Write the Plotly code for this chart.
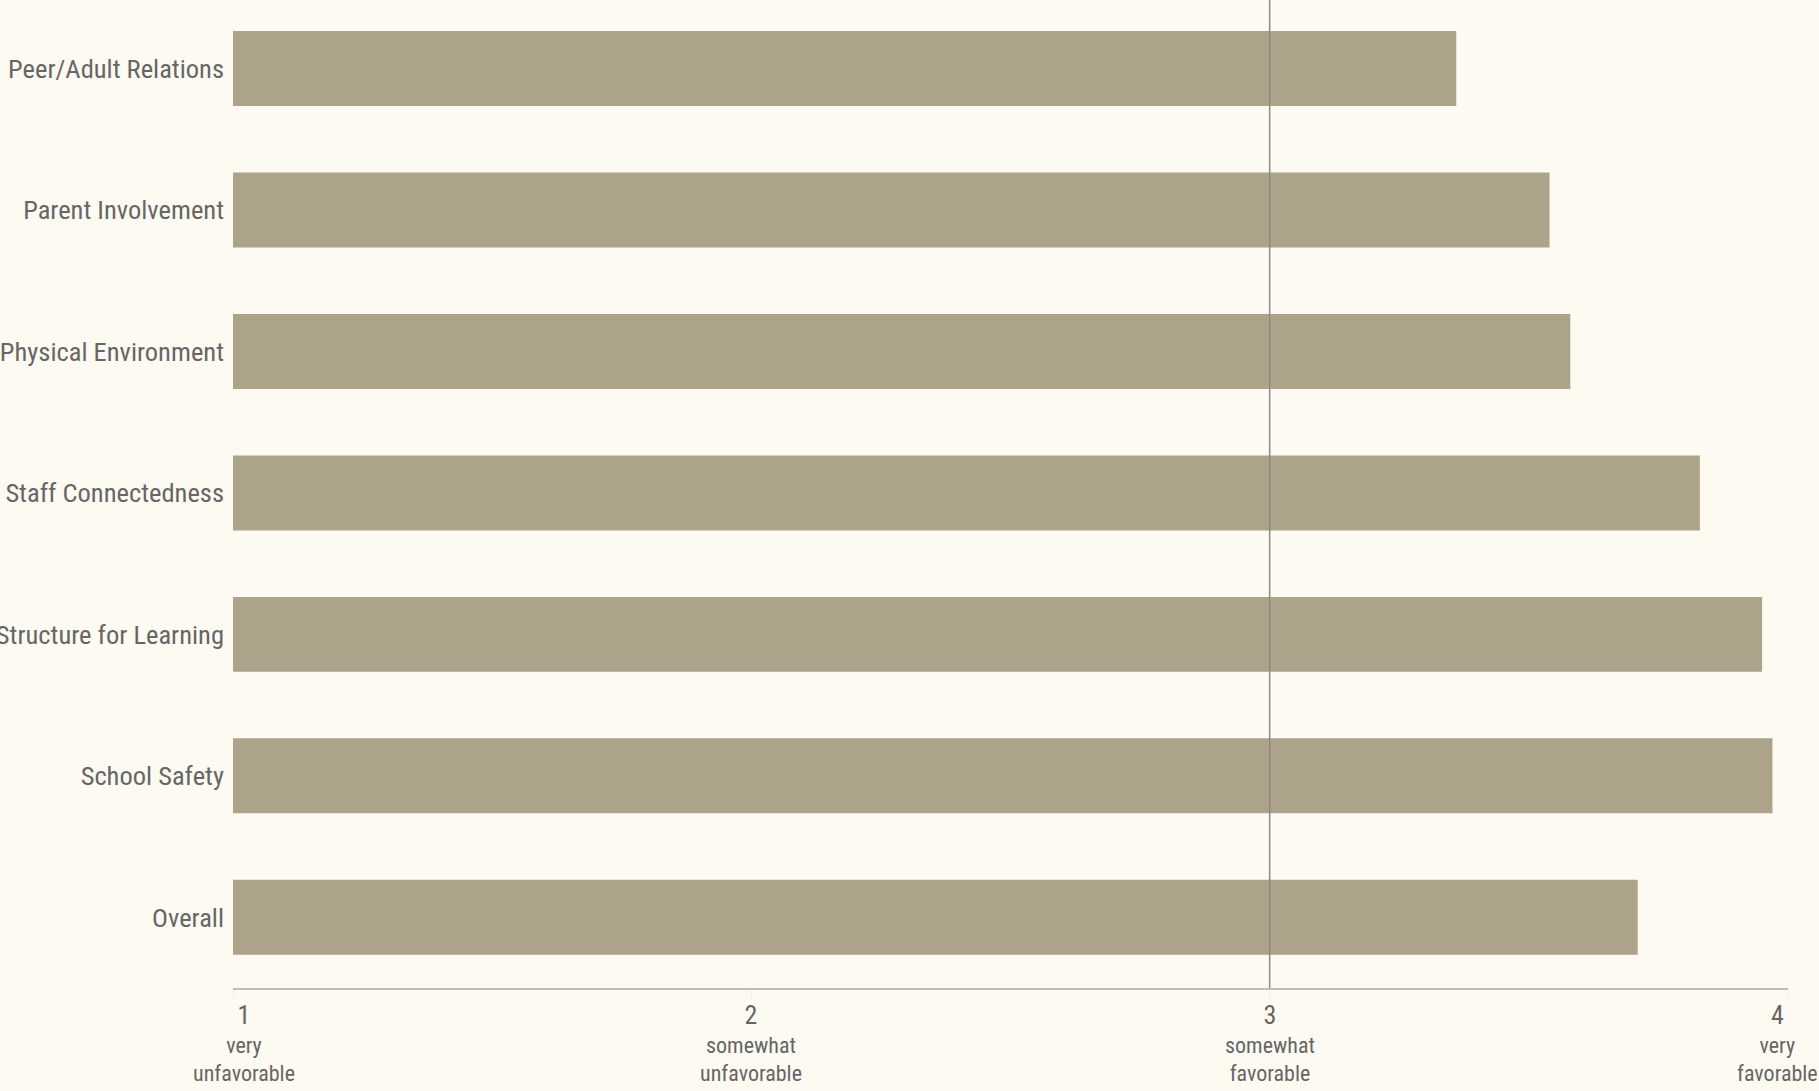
import plotly.graph_objects as go

categories = ["Peer/Adult Relations", "Parent Involvement", "Physical Environment",
              "Staff Connectedness", "Structure for Learning", "School Safety", "Overall"]
scores = [3.36, 3.54, 3.58, 3.83, 3.95, 3.97, 3.71]

tick_values = [1, 2, 3, 4]
tick_numbers = ["1", "2", "3", "4"]
tick_words = ["very<br>unfavorable", "somewhat<br>unfavorable", "somewhat<br>favorable", "very<br>favorable"]
tick_nudge = [11, 0, 0, -11]   # edge labels pulled inward so they stay inside the page

FONT = "Roboto Condensed, Liberation Sans Narrow, DejaVu Sans Condensed, Roboto, sans-serif"
TEXT = "#666666"
BG = "#fdfaf1"

fig = go.Figure(go.Bar(
    y=categories, x=scores, orientation="h",
    marker=dict(color="#ada38a", line=dict(width=0)),
    width=0.53, hoverinfo="x+y",
))

fig.add_vline(x=3, line=dict(color="#8a8a8a", width=1.5), layer="above")

for v, n, w, dx in zip(tick_values, tick_numbers, tick_words, tick_nudge):
    fig.add_annotation(
        x=v, xref="x", y=0, yref="paper", yanchor="top", xanchor="center",
        xshift=dx, yshift=-10, showarrow=False, align="center",
        text=f"<span style='font-size:26px'>{n}</span><br>{w}",
        font=dict(size=22, color=TEXT, family=FONT),
    )

fig.update_layout(
    width=1819, height=1091,
    margin=dict(l=233, r=31, t=0, b=103, autoexpand=False),
    paper_bgcolor=BG, plot_bgcolor=BG,
    font=dict(family=FONT, color=TEXT),
    showlegend=False,
    xaxis=dict(range=[1, 4], tickvals=tick_values, showticklabels=False,
               automargin=False,
               showgrid=False, zeroline=False, showline=True, linecolor="#bdbdbd", linewidth=1.5,
               ticks="outside", ticklen=8, tickcolor="#f0eee6", fixedrange=True),
    yaxis=dict(showgrid=False, zeroline=False, automargin=False,
               range=[6.5, -0.485],
               tickfont=dict(size=26.5, color=TEXT, family=FONT), ticklabelstandoff=8,
               ticks="", fixedrange=True),
)

fig.write_html("out.html", config={"displayModeBar": False},
               post_script="document.body.style.margin='0';document.body.style.background='%s';" % BG)
